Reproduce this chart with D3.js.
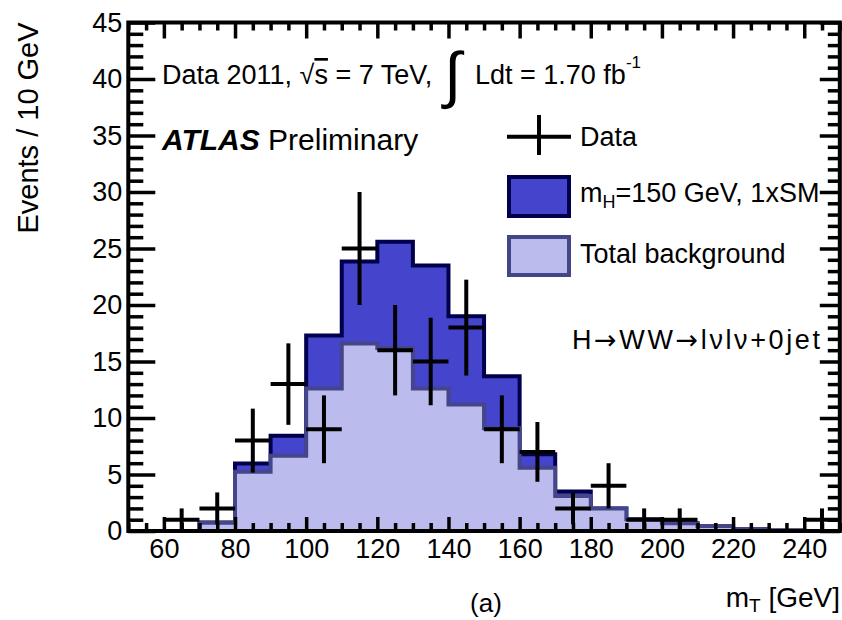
<!DOCTYPE html>
<html><head><meta charset="utf-8">
<script src="https://cdn.jsdelivr.net/npm/d3@7"></script>
<style>
body{margin:0;background:#fff}
svg{display:block}
text{font-family:"Liberation Sans",Arial,Helvetica,sans-serif;fill:#000}
</style>
</head><body><script>
// ---- data ----
const binLow = [50,60,70,80,90,100,110,120,130,140,150,160,170,180,190,200,210,220,230,240];
const background = [0,0,0.73,5.24,6.65,12.6,16.6,16.2,12.6,11.2,9.1,5.6,3.1,2.0,1.03,0.68,0.44,0.15,0.05,0];
const signal =     [0,0,0.02,0.74,1.77,4.7,7.25,9.4,10.9,7.8,4.6,1.2,0.4,0,0,0,0,0,0,0];
const dataMass =   [65,75,85,95,105,115,125,135,145,155,165,175,185,195,205,245];
const dataEvents = [1,2,8,13,9,25,16,15,18,9,7,2,4,1,1,1];
const xMajorTicks = [60,80,100,120,140,160,180,200,220,240];
const yMajorTicks = [0,5,10,15,20,25,30,35,40,45];
const binWidth = 10;

// ---- layout ----
const W = 842, H = 620;
const svg = d3.select("body").append("svg").attr("width", W).attr("height", H);
const x = d3.scaleLinear().domain([50, 250]).range([128.3, 839.8]);
const y = d3.scaleLinear().domain([0, 45]).range([531, 22.5]);

const xMinor = d3.range(50, 251, 5).filter(v => !xMajorTicks.includes(v));
const yMinor = d3.range(0, 46, 1).filter(v => !yMajorTicks.includes(v));

svg.append("clipPath").attr("id", "plot").append("rect")
  .attr("x", x(50)).attr("y", y(45)).attr("width", x(250) - x(50)).attr("height", y(0) - y(45));

const total = background.map((b, i) => b + signal[i]);
function stepPoints(vals) {
  const pts = [[binLow[0], 0]];
  binLow.forEach((b, i) => { pts.push([b, vals[i]]); pts.push([b + binWidth, vals[i]]); });
  pts.push([binLow[binLow.length - 1] + binWidth, 0]);
  return pts;
}
const area = d3.area().x(d => x(d[0])).y0(y(0)).y1(d => y(d[1]));
const line = d3.line().x(d => x(d[0])).y(d => y(d[1]));

const g = svg.append("g").attr("clip-path", "url(#plot)");
g.append("path").attr("d", area(stepPoints(total))).attr("fill", "#4444cc");
g.append("path").attr("d", line(stepPoints(total))).attr("fill", "none").attr("stroke", "#00004d").attr("stroke-width", 4);
g.append("path").attr("d", area(stepPoints(background))).attr("fill", "#bbbbee");
g.append("path").attr("d", line(stepPoints(background))).attr("fill", "none").attr("stroke", "#45458a").attr("stroke-width", 4);

// data points with error bars
const pts = svg.append("g").attr("stroke", "#000").attr("stroke-width", 4);
dataMass.forEach((m, i) => {
  const v = dataEvents[i], e = Math.sqrt(v);
  pts.append("line").attr("x1", x(m)).attr("x2", x(m)).attr("y1", y(Math.max(0, v - e))).attr("y2", y(v + e));
  pts.append("line").attr("x1", x(m - binWidth / 2)).attr("x2", x(m + binWidth / 2)).attr("y1", y(v)).attr("y2", y(v));
});

// ---- axes ----
function styleAxis(sel) {
  sel.select(".domain").remove();
  sel.selectAll(".tick line").attr("stroke", "#000").attr("stroke-width", 3.5);
  sel.selectAll(".tick text").attr("font-size", 27).attr("font-family", '"Liberation Sans",Arial,sans-serif');
}
svg.append("g").attr("transform", `translate(0,${y(0)})`)
  .call(d3.axisBottom(x).tickValues(xMajorTicks).tickSize(-14).tickPadding(8).tickFormat(d3.format("d"))).call(styleAxis);
svg.append("g").attr("transform", `translate(0,${y(0)})`)
  .call(d3.axisBottom(x).tickValues(xMinor).tickSize(-8).tickFormat("")).call(styleAxis);
svg.append("g").attr("transform", `translate(0,${y(45)})`)
  .call(d3.axisTop(x).tickValues(xMajorTicks).tickSize(-16).tickFormat("")).call(styleAxis);
svg.append("g").attr("transform", `translate(0,${y(45)})`)
  .call(d3.axisTop(x).tickValues(xMinor).tickSize(-8).tickFormat("")).call(styleAxis);
svg.append("g").attr("transform", `translate(${x(50)},0)`)
  .call(d3.axisLeft(y).tickValues(yMajorTicks).tickSize(-27).tickPadding(6).tickFormat(d3.format("d"))).call(styleAxis);
svg.append("g").attr("transform", `translate(${x(50)},0)`)
  .call(d3.axisLeft(y).tickValues(yMinor).tickSize(-15).tickFormat("")).call(styleAxis);
svg.append("g").attr("transform", `translate(${x(250)},0)`)
  .call(d3.axisRight(y).tickValues(yMajorTicks).tickSize(-20).tickFormat("")).call(styleAxis);
svg.append("g").attr("transform", `translate(${x(250)},0)`)
  .call(d3.axisRight(y).tickValues(yMinor).tickSize(-12).tickFormat("")).call(styleAxis);

svg.append("rect").attr("x", x(50)).attr("y", y(45)).attr("width", x(250) - x(50)).attr("height", y(0) - y(45))
  .attr("fill", "none").attr("stroke", "#000").attr("stroke-width", 4);

// ---- axis titles ----
svg.append("text").attr("transform", "translate(38,128) rotate(-90)").attr("text-anchor", "middle")
  .attr("font-size", 29).text("Events / 10 GeV");
const xt = svg.append("text").attr("x", 840).attr("y", 607).attr("text-anchor", "end").attr("font-size", 28);
xt.append("tspan").text("m");
xt.append("tspan").attr("font-size", 19).attr("dy", 5).text("T");
xt.append("tspan").attr("dy", -5).text(" [GeV]");
svg.append("text").attr("x", 486).attr("y", 612).attr("text-anchor", "middle").attr("font-size", 26).text("(a)");

// ---- labels ----
const t1 = svg.append("text").attr("x", 162).attr("y", 84).attr("font-size", 27);
t1.append("tspan").text("Data 2011, \u221A");
t1.append("tspan").attr("text-decoration", "overline").text("s");
t1.append("tspan").text(" = 7 TeV,");
svg.append("text").attr("x", 444).attr("y", 96).attr("font-size", 62).attr("font-family", '"DejaVu Sans",sans-serif').text("\u222B");
const t2 = svg.append("text").attr("x", 475).attr("y", 84).attr("font-size", 27);
t2.append("tspan").text("Ldt = 1.70 fb");
t2.append("tspan").attr("font-size", 17).attr("dy", -16).text("-1");

const at = svg.append("text").attr("x", 162).attr("y", 150).attr("font-size", 30);
at.append("tspan").attr("font-weight", "bold").attr("font-style", "italic").text("ATLAS");
at.append("tspan").text(" Preliminary");

// legend
const lg = svg.append("g");
lg.append("line").attr("x1", 507).attr("x2", 571).attr("y1", 136.7).attr("y2", 136.7).attr("stroke", "#000").attr("stroke-width", 4);
lg.append("line").attr("x1", 539).attr("x2", 539).attr("y1", 115).attr("y2", 155).attr("stroke", "#000").attr("stroke-width", 4);
lg.append("text").attr("x", 580).attr("y", 146).attr("font-size", 27).text("Data");
lg.append("rect").attr("x", 509).attr("y", 177).attr("width", 60).attr("height", 39).attr("fill", "#4444cc").attr("stroke", "#00004d").attr("stroke-width", 4);
const ls = lg.append("text").attr("x", 580).attr("y", 202).attr("font-size", 27);
ls.append("tspan").text("m");
ls.append("tspan").attr("font-size", 18).attr("dy", 6).text("H");
ls.append("tspan").attr("dy", -6).text("=150 GeV, 1xSM");
lg.append("rect").attr("x", 509).attr("y", 237).attr("width", 60).attr("height", 38).attr("fill", "#bbbbee").attr("stroke", "#45458a").attr("stroke-width", 4);
lg.append("text").attr("x", 580).attr("y", 263).attr("font-size", 27).text("Total background");
const hw = svg.append("text").attr("x", 572).attr("y", 349).attr("font-size", 27)
  .attr("textLength", 248).attr("lengthAdjust", "spacing");
hw.append("tspan").text("H");
hw.append("tspan").attr("font-family", '"DejaVu Sans",sans-serif').text("\u2192");
hw.append("tspan").text("WW");
hw.append("tspan").attr("font-family", '"DejaVu Sans",sans-serif').text("\u2192");
hw.append("tspan").text("l\u03BDl\u03BD+0jet");
</script></body></html>
